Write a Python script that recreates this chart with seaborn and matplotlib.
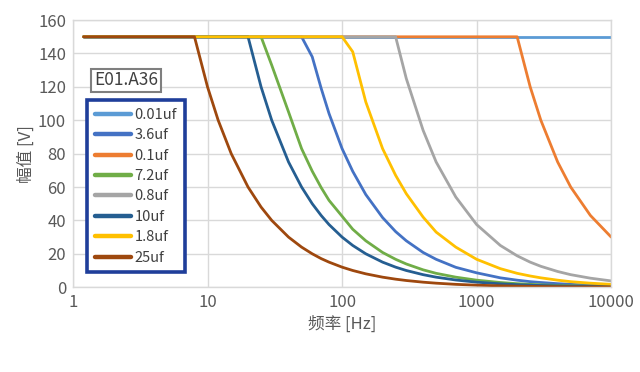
#!/usr/bin/env python3
"""Amplitude vs frequency for the E01.A36 capacitor sweep."""

from __future__ import annotations

import matplotlib

matplotlib.use("Agg")

import matplotlib.pyplot as plt
import pandas as pd
import seaborn as sns


FREQ_HZ = [1.2, 2, 3, 5, 7, 8, 10, 12, 15, 20, 25, 30, 40, 50, 60, 70, 80, 100, 120, 150,
           200, 250, 300, 400, 500, 700, 1000, 1500, 2000, 2500, 3000, 4000, 5000, 7000, 10000]

V_001UF = [150] * 35
V_36UF = [150] * 14 + [138, 119, 104, 83, 69.4, 55.5, 41.7, 33.3, 27.8, 20.8, 16.7, 11.9,
                       8.6, 5.6, 4.2, 3.3, 2.8, 2.1, 1.7, 1.2, 0.83]
V_01UF = [150] * 29 + [120, 100, 75, 60, 43, 30]
V_72UF = [150] * 11 + [133, 105, 83, 69.5, 59.6, 52, 42.5, 34.7, 27.8, 20.8, 16.7, 13.9,
                       10.4, 8.3, 6, 4.2, 2.8, 2.1, 1.7, 1.4, 1.0, 0.83, 0.6, 0.42]
V_08UF = [150] * 22 + [125, 94, 75, 54, 37.5, 25, 18.8, 15, 12.5, 9.4, 7.5, 5.4, 3.75]
V_10UF = [150] * 10 + [120, 100, 75, 60, 50, 42.9, 37.5, 30, 25, 20, 15, 12, 10, 7.5, 6,
                       4.3, 3, 2, 1.5, 1.2, 1, 0.75, 0.6, 0.43, 0.3]
V_18UF = [150] * 18 + [141, 111, 83, 67, 56, 42, 33, 24, 16.7, 11.1, 8.3, 6.7, 5.6, 4.2,
                       3.3, 2.4, 1.7]
V_25UF = [150] * 6 + [120, 100, 80, 60, 48, 40, 30, 24, 20, 17.1, 15, 12, 10, 8, 6, 4.8, 4,
                      3, 2.4, 1.7, 1.2, 0.8, 0.6, 0.5, 0.4, 0.3, 0.24, 0.17, 0.12]

SERIES = ["0.01uf", "3.6uf", "0.1uf", "7.2uf", "0.8uf", "10uf", "1.8uf", "25uf"]
VALUES = [V_001UF, V_36UF, V_01UF, V_72UF, V_08UF, V_10UF, V_18UF, V_25UF]
COLORS = ["#5B9BD5", "#4472C4", "#ED7D31", "#70AD47", "#A5A5A5", "#255E91", "#FFC000", "#9E480E"]

X_TICKS = [1, 10, 100, 1000, 10000]
Y_TICKS = [0, 20, 40, 60, 80, 100, 120, 140, 160]

GRID = "#D9D9D9"
TEXT = "#595959"


def long_frame() -> pd.DataFrame:
    rows = []
    for name, vals in zip(SERIES, VALUES):
        for f, v in zip(FREQ_HZ, vals):
            rows.append({"freq": f, "volt": v, "cap": name})
    return pd.DataFrame(rows)


def main() -> None:
    sns.set_theme(style="white")
    plt.rcParams["font.family"] = ["Noto Sans CJK SC", "DejaVu Sans"]

    df = long_frame()
    fig = plt.figure(figsize=(6.4, 3.72), dpi=100)
    ax = fig.add_axes([0.114, 0.228, 0.841, 0.718])

    sns.lineplot(
        data=df,
        x="freq",
        y="volt",
        hue="cap",
        hue_order=SERIES,
        palette=COLORS,
        linewidth=2.0,
        ax=ax,
        legend=True,
    )

    ax.set_xscale("log")
    ax.set_xlim(1, 10000)
    ax.set_ylim(0, 160)
    ax.set_xticks(X_TICKS)
    ax.set_xticklabels([str(t) for t in X_TICKS])
    ax.xaxis.set_minor_locator(matplotlib.ticker.NullLocator())
    ax.set_yticks(Y_TICKS)
    ax.grid(True, color=GRID, linewidth=1.0)
    ax.set_axisbelow(True)
    for side in ["top", "right", "left", "bottom"]:
        ax.spines[side].set_color(GRID)
        ax.spines[side].set_linewidth(1.0)
    ax.tick_params(axis="both", length=0, labelsize=12, labelcolor=TEXT, pad=5)
    ax.set_xlabel("频率 [Hz]", fontsize=12, color=TEXT, labelpad=3)
    ax.set_ylabel("幅值 [V]", fontsize=12, color=TEXT, labelpad=2)

    handles, labels = ax.get_legend_handles_labels()
    for h in handles:
        h.set_linewidth(3.2)
        h.set_solid_capstyle("round")
    leg = ax.legend(
        handles,
        labels,
        loc="upper left",
        bbox_to_anchor=(0.026, 0.700),
        borderaxespad=0,
        fontsize=10.5,
        handlelength=2.5,
        handletextpad=0.25,
        labelspacing=0.44,
        borderpad=0.52,
        fancybox=False,
        framealpha=1,
    )
    leg.get_frame().set_edgecolor("#1F3E9A")
    leg.get_frame().set_linewidth(2.6)
    for t in leg.get_texts():
        t.set_color("#404040")

    ax.text(
        0.0985,
        0.775,
        "E01.A36",
        transform=ax.transAxes,
        ha="center",
        va="center",
        fontsize=12.5,
        color="#404040",
        bbox={"boxstyle": "square,pad=0.15", "facecolor": "white", "edgecolor": "#7F7F7F", "linewidth": 1.5},
    )

    fig.savefig("out.png", dpi=100)
    plt.close(fig)


if __name__ == "__main__":
    main()
